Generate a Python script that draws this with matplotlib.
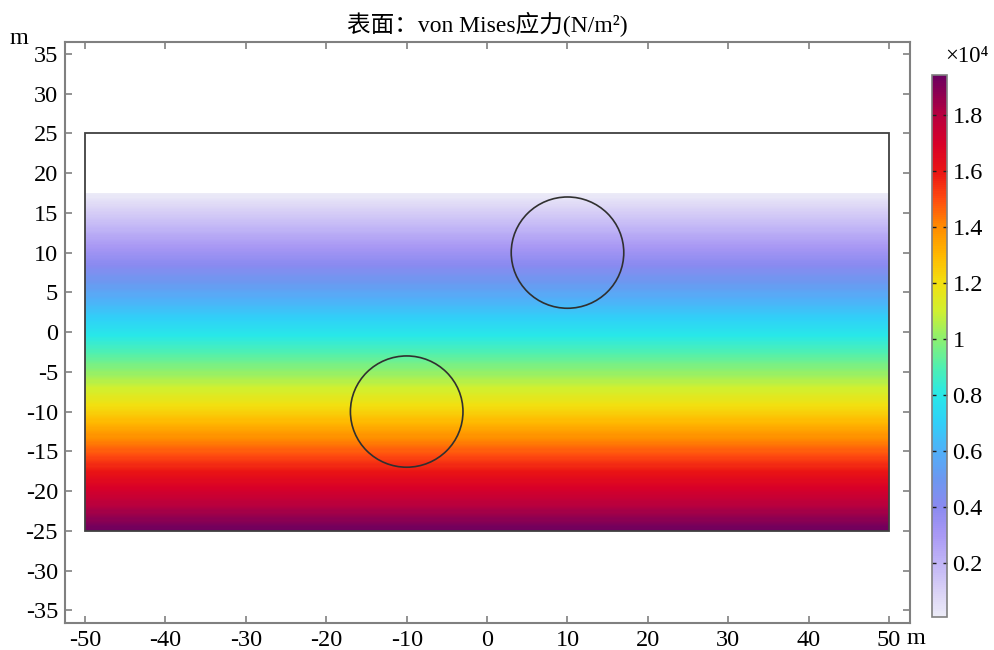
import numpy as np
import matplotlib
matplotlib.use("Agg")
import matplotlib.pyplot as plt
from matplotlib.colors import LinearSegmentedColormap, Normalize
from matplotlib.patches import Rectangle, Circle
import matplotlib.cm as cm

plt.rcParams['font.family'] = ['Liberation Serif', 'Noto Sans CJK SC', 'DejaVu Sans']

# stress (N/m^2) at a few heights, constant along x
field_y = [17.5, 10, 0, -10, -20, -25]
stress = [70, 3350, 7800, 12350, 17150, 19430]
field_x = [-50, 50]

# geometry
box_x = (-50, 50)
box_y = (-25, 25)
hole_centers = [(10, 10), (-10, -10)]
hole_radius = 7

x_ticks = [-50, -40, -30, -20, -10, 0, 10, 20, 30, 40, 50]
x_labels = ['-50', '-40', '-30', '-20', '-10', '0', '10', '20', '30', '40', '50']
y_ticks = [35, 30, 25, 20, 15, 10, 5, 0, -5, -10, -15, -20, -25, -30, -35]
cb_ticks = [0.2e4, 0.4e4, 0.6e4, 0.8e4, 1.0e4, 1.2e4, 1.4e4, 1.6e4, 1.8e4]
cb_labels = ['0.2', '0.4', '0.6', '0.8', '1', '1.2', '1.4', '1.6', '1.8']

title = '表面：von Mises应力(N/m²)'

vmin, vmax = min(stress), max(stress)
norm = Normalize(vmin, vmax)

# COMSOL "Prism"-like colour table, anchored at colorbar values (x1e4)
cmap_vals = [0.007, 0.1, 0.2, 0.3, 0.4, 0.5, 0.6, 0.7, 0.8, 0.9, 1.0, 1.1,
             1.2, 1.3, 1.4, 1.5, 1.6, 1.7, 1.8, 1.943]
cmap_cols = ['#ecebf7', '#d8d0f6', '#c0b4f6', '#a898f4', '#8a8af0', '#6c98f0',
             '#50b0f8', '#30d0f8', '#28e8e8', '#50f0b0', '#8cf070', '#d0f030',
             '#f2e010', '#ffb800', '#ff8c00', '#ff4c10', '#ea1414', '#d80028',
             '#b8003e', '#6c0060']
span = cmap_vals[-1] - cmap_vals[0]
prism = LinearSegmentedColormap.from_list(
    'prism_like', [((v - cmap_vals[0]) / span, c) for v, c in zip(cmap_vals, cmap_cols)])

fig = plt.figure(figsize=(9.95, 6.5), dpi=100)
ax = fig.add_axes([65 / 995, 27 / 650, 845 / 995, 581 / 650])

X, Y = np.meshgrid(field_x, field_y)
Z = np.tile(np.array(stress, dtype=float)[:, None], (1, len(field_x)))
cs = ax.contourf(X, Y, Z, levels=np.linspace(vmin, vmax, 300), cmap=prism,
                 norm=norm, antialiased=False)

ax.add_patch(Rectangle((box_x[0], box_y[0]), box_x[1] - box_x[0], box_y[1] - box_y[0],
                       fill=False, ec='#404040', lw=1.3, zorder=3))
for c in hole_centers:
    ax.add_patch(Circle(c, hole_radius, fill=False, ec='#303030', lw=1.2, zorder=3))

ax.set_xlim(-52.5, 52.6)
ax.set_ylim(-36.6, 36.5)
ax.set_xticks(x_ticks)
ax.set_xticklabels(x_labels)
ax.set_yticks(y_ticks)
ax.set_yticklabels([str(t) for t in y_ticks])
ax.tick_params(direction='in', length=5, width=1.2, color='#808080',
               labelsize=17.5, top=True, right=True, pad=5)
for s in ax.spines.values():
    s.set_color('#808080')
    s.set_linewidth(1.5)

ax.set_title(title, fontsize=17, pad=7)
fig.text(10 / 995, 1 - 38 / 650, 'm', fontsize=17.5, ha='left', va='center')
fig.text(907 / 995, 1 - 638 / 650, 'm', fontsize=17.5, ha='left', va='center')

cax = fig.add_axes([932 / 995, 33 / 650, 15 / 995, 542 / 650])
sm = cm.ScalarMappable(norm=norm, cmap=prism)
cb = fig.colorbar(sm, cax=cax)
cb.set_ticks(cb_ticks)
cb.set_ticklabels(cb_labels)
cax.tick_params(direction='in', length=3, width=1, color='#202020', labelsize=17.5,
                left=True, right=True, pad=4)
cb.outline.set_edgecolor('#808080')
cb.outline.set_linewidth(1.2)
fig.text(945 / 995, 1 - 56 / 650, '×10⁴', fontsize=16.5, ha='left', va='center')

fig.savefig('out.png', dpi=100)
